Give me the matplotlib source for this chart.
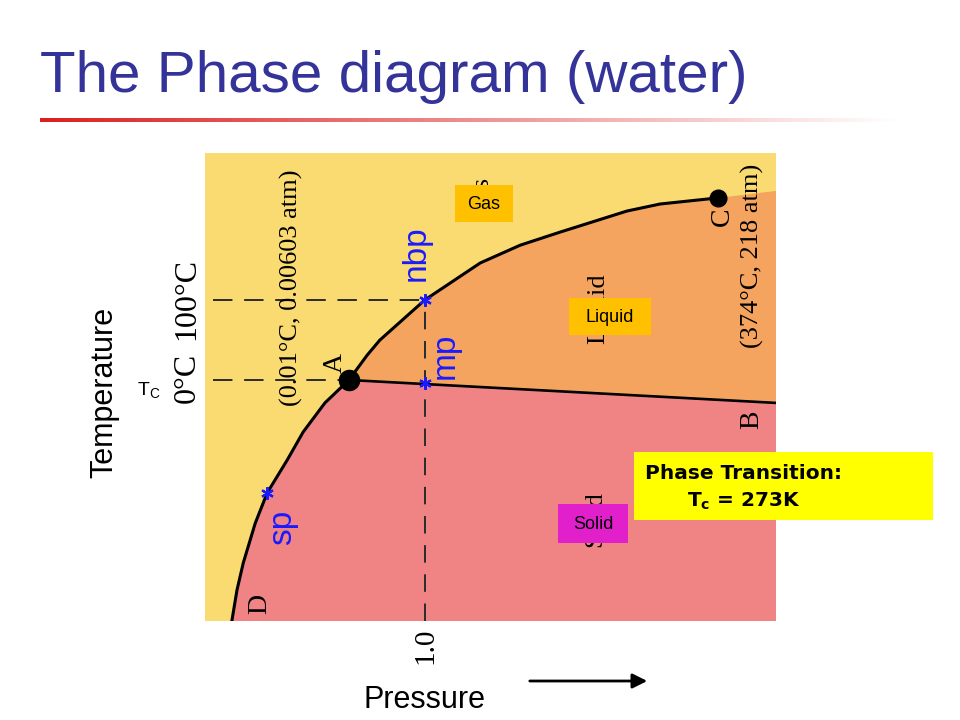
import numpy as np
import matplotlib
matplotlib.use('Agg')
import matplotlib.pyplot as plt
from matplotlib.patches import Rectangle

# schematic phase boundaries, x = pressure, y = temperature (both 0..1 across the panel)
sub_p = [0.047, 0.056, 0.067, 0.088, 0.109, 0.144, 0.172, 0.210, 0.252]
sub_t = [0.000, 0.066, 0.124, 0.209, 0.274, 0.344, 0.404, 0.466, 0.515]
vap_p = [0.252, 0.284, 0.306, 0.385, 0.482, 0.552, 0.622, 0.739, 0.797, 0.898]
vap_t = [0.515, 0.568, 0.600, 0.686, 0.765, 0.803, 0.831, 0.876, 0.891, 0.904]
fus_p = [0.252, 1.000]
fus_t = [0.515, 0.466]

# special points: A triple point, C critical point
pts_p = [0.252, 0.898]
pts_t = [0.515, 0.904]
pts_size = [14.5, 12]

# normal boiling / melting / sublimation marks
star_p = [0.385, 0.385, 0.109]
star_t = [0.686, 0.508, 0.274]

one_atm = 0.385
t_100 = 0.686
t_0 = 0.515
dash_start = 0.014

gas_col = '#FADB71'
liq_col = '#F4A45F'
sol_col = '#F08484'

fig = plt.figure(figsize=(9.6, 7.2), dpi=100)

# ---- diagram panel
ax = fig.add_axes([205/960, 99/720, 571/960, 468/720])
ax.set_facecolor(gas_col)
ax.fill(np.concatenate([sub_p, fus_p[1:], [1.0, sub_p[0]]]),
        np.concatenate([sub_t, fus_t[1:], [0.0, 0.0]]), color=sol_col, lw=0)
ax.fill(np.concatenate([vap_p, [1.0, fus_p[1]]]),
        np.concatenate([vap_t, [vap_t[-1] + 0.015, fus_t[1]]]), color=liq_col, lw=0)

ax.plot([dash_start, one_atm], [t_100, t_100], color='#2b2b2b', lw=1.4, dashes=(10, 6))
ax.plot([dash_start, pts_p[0]], [t_0, t_0], color='#2b2b2b', lw=1.4, dashes=(10, 6))
ax.plot([one_atm, one_atm], [0, t_100], color='#2b2b2b', lw=1.4, dashes=(9, 6))

ax.plot(sub_p, sub_t, color='black', lw=2.2)
ax.plot(vap_p, vap_t, color='black', lw=2.2)
ax.plot(fus_p, fus_t, color='black', lw=1.9)
for p, t, s in zip(pts_p, pts_t, pts_size):
    ax.plot(p, t, 'o', color='black', ms=s)
ax.plot(star_p, star_t, ls='none', marker=(6, 2, 0), color='#1a1aff', ms=9, mew=1.6)

ax.set_xlim(0, 1)
ax.set_ylim(0, 1)
ax.set_xticks([])
ax.set_yticks([])
for s in ax.spines.values():
    s.set_visible(False)

# ---- slide overlay in pixel coordinates
cv = fig.add_axes([0, 0, 1, 1])
cv.patch.set_visible(False)

cv.text(40, 92, 'The Phase diagram (water)', fontsize=42, color='#333399',
        family='Liberation Sans', ha='left', va='baseline')

grad = np.zeros((1, 300, 4))
grad[..., 0] = 0.86
grad[..., 1] = 0.12
grad[..., 2] = 0.12
grad[..., 3] = np.linspace(1, 0, 300)
cv.imshow(grad, extent=(40, 900, 122.5, 119), aspect='auto', interpolation='bilinear')

cv.text(104, 392, 'Temperature', rotation=90, fontsize=22, family='Liberation Sans',
        ha='center', va='center')
cv.text(363, 708, 'Pressure', fontsize=22, family='Liberation Sans', ha='left', va='baseline')
cv.text(137, 396, r'T$_\mathregular{C}$', fontsize=14, family='Liberation Sans',
        ha='left', va='baseline')
cv.annotate('', xy=(650, 681), xytext=(527, 681),
            arrowprops=dict(arrowstyle='-|>', lw=2, color='black', mutation_scale=22))

# labels printed sideways on the original figure
side_labels = ['(0.01°C, 0.00603 atm)', '(374°C, 218 atm)', '0°C', '100°C', '1.0',
               'A', 'B', 'C', 'D', 'Liquid', 'Solid', 'Gas']
side_x = [291, 752, 187, 187, 425, 335, 752, 722, 260, 598, 595, 482]
side_y = [288, 256, 378, 299, 646, 363, 420, 217, 604, 309, 519, 196]
side_fs = [19, 19, 23, 23, 21, 20, 20, 20, 20, 19, 19, 19]
for s, x, y, f in zip(side_labels, side_x, side_y, side_fs):
    cv.text(x, y, s, rotation=90, fontsize=f, family='Liberation Serif',
            ha='center', va='center', zorder=1)

blue_labels = ['nbp', 'mp', 'sp']
blue_x = [416, 445, 283]
blue_y = [253, 356, 527]
for s, x, y in zip(blue_labels, blue_x, blue_y):
    cv.text(x, y, s, rotation=90, fontsize=24, family='Liberation Sans', color='#1a1aff',
            ha='center', va='center', zorder=1)

# phase name boxes
box_names = ['Gas', 'Liquid', 'Solid']
box_xy = [(455, 185), (569, 298), (558, 504)]
box_wh = [(58, 37), (82, 37), (70, 39)]
box_col = ['#FFC000', '#FFC000', '#E11FCB']
for n, (x, y), (w, h), c in zip(box_names, box_xy, box_wh, box_col):
    cv.add_patch(Rectangle((x, y), w, h, facecolor=c, edgecolor='none', zorder=2))
    cv.text(x + w/2, y + h/2 + 1, n, fontsize=13, family='Liberation Sans',
            ha='center', va='center', zorder=3)

cv.add_patch(Rectangle((634, 452), 299, 68, facecolor='#FFFF00', edgecolor='none', zorder=2))
cv.text(645, 479, 'Phase Transition:', fontsize=14.5, fontweight='bold',
        family='DejaVu Sans', ha='left', va='baseline', zorder=3)
cv.text(687, 507, r'T$_\mathbf{c}$ = 273K', fontsize=14.5, fontweight='bold',
        family='DejaVu Sans', ha='left', va='baseline', zorder=3)

cv.set_xlim(0, 960)
cv.set_ylim(720, 0)
cv.axis('off')

fig.savefig('out.png', dpi=100)
